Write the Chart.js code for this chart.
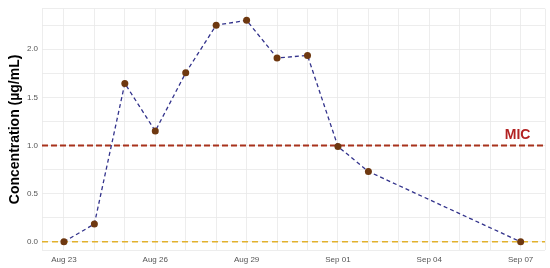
<!DOCTYPE html>
<html>
<head>
<meta charset="utf-8">
<script src="https://cdn.jsdelivr.net/npm/chart.js@4"></script>
<style>
  html, body { margin: 0; padding: 0; background: #fff; }
  #wrap { width: 550px; height: 268px; }
</style>
</head>
<body>
<div id="wrap"><canvas id="myChart"></canvas></div>
<script>
// days after Aug 23
const days = [0, 1, 2, 3, 4, 5, 6, 7, 8, 9, 10, 15];
const concentration = [0, 0.185, 1.645, 1.15, 1.755, 2.25, 2.30, 1.91, 1.935, 0.99, 0.73, 0];
const tickDays = [0, 3, 6, 9, 12, 15];
const tickLabels = ['Aug 23', 'Aug 26', 'Aug 29', 'Sep 01', 'Sep 04', 'Sep 07'];
const micValue = 1.0;
const xMin = -0.72, xMax = 15.8;
const yMin = -0.085, yMax = 2.42;

const micLabel = {
    id: 'micLabel',
    afterDatasetsDraw(chart) {
        const ctx = chart.ctx;
        const x = chart.scales.x.getPixelForValue(14.9);
        const y = chart.scales.y.getPixelForValue(micValue);
        ctx.save();
        ctx.font = 'bold 14px "Liberation Sans", Arial, sans-serif';
        ctx.fillStyle = '#b22222';
        ctx.textAlign = 'center';
        ctx.textBaseline = 'bottom';
        ctx.fillText('MIC', x, y - 3);
        ctx.restore();
    }
};

const ctx = document.getElementById('myChart');
new Chart(ctx, {
    type: 'line',
    data: {
        datasets: [
            {
                label: 'Concentration',
                data: days.map((d, i) => ({x: d, y: concentration[i]})),
                borderColor: '#33338c',
                borderWidth: 1.3,
                borderDash: [4, 3],
                pointRadius: 3.5,
                pointBackgroundColor: '#6e3810',
                pointBorderColor: '#6e3810',
                pointBorderWidth: 0,
                order: 0
            },
            {
                label: 'MIC',
                data: [{x: xMin, y: micValue}, {x: xMax, y: micValue}],
                borderColor: '#a8321c',
                borderWidth: 2,
                borderDash: [6, 3],
                pointRadius: 0,
                order: 1
            },
            {
                label: 'zero',
                data: [{x: xMin, y: 0}, {x: xMax, y: 0}],
                borderColor: '#e2b12c',
                borderWidth: 1.5,
                borderDash: [6, 4],
                pointRadius: 0,
                order: 2
            }
        ]
    },
    options: {
        responsive: true,
        maintainAspectRatio: false,
        animation: false,
        layout: { padding: { top: 6, right: 3, left: 0, bottom: 0 } },
        plugins: { legend: { display: false }, tooltip: { enabled: false } },
        scales: {
            x: {
                type: 'linear',
                min: xMin,
                max: xMax,
                afterBuildTicks: scale => {
                    const t = [{value: xMin}];
                    for (let d = 0; d <= 15; d++) t.push({value: d});
                    t.push({value: xMax});
                    scale.ticks = t;
                },
                afterFit: scale => { scale.height = 18; },
                grid: { color: '#e8e8e8', lineWidth: 0.8, drawTicks: false },
                border: { display: false },
                ticks: {
                    autoSkip: false,
                    maxRotation: 0,
                    padding: 5,
                    color: '#555',
                    font: { size: 8, family: '"Liberation Sans", Arial, sans-serif' },
                    callback: v => {
                        const i = tickDays.indexOf(v);
                        return i >= 0 ? tickLabels[i] : '';
                    }
                }
            },
            y: {
                min: yMin,
                max: yMax,
                afterBuildTicks: scale => {
                    const t = [{value: yMin}];
                    for (let v = 0; v <= 2.25 + 1e-9; v += 0.25) t.push({value: Math.round(v * 100) / 100});
                    t.push({value: yMax});
                    scale.ticks = t;
                },
                afterFit: scale => { scale.width = 42; },
                grid: { color: '#e8e8e8', lineWidth: 0.8, drawTicks: false },
                border: { display: false },
                title: {
                    display: true,
                    text: 'Concentration (µg/mL)',
                    color: '#000',
                    padding: { top: 7, bottom: 0 },
                    font: { size: 14, weight: 'bold', family: '"Liberation Sans", Arial, sans-serif' }
                },
                ticks: {
                    padding: 4,
                    color: '#555',
                    font: { size: 8, family: '"Liberation Sans", Arial, sans-serif' },
                    callback: v => (Math.abs(v * 2 - Math.round(v * 2)) < 1e-9 && v >= 0) ? v.toFixed(1) : ''
                }
            }
        }
    },
    plugins: [micLabel]
});
</script>
</body>
</html>
